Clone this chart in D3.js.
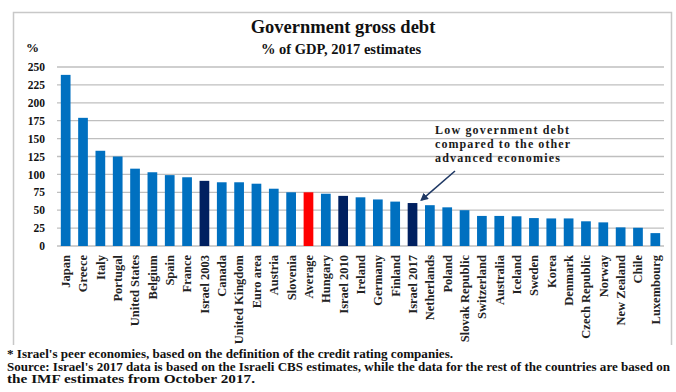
<!DOCTYPE html>
<html>
<head>
<meta charset="utf-8">
<script src="https://cdn.jsdelivr.net/npm/d3@7"></script>
<style>
  body { margin: 0; background: #fff; }
  svg { font-family: "Liberation Serif", "DejaVu Serif", serif; }
</style>
</head>
<body>
<div id="chart"></div>
<script>
// Data
const countries = ["Japan", "Greece", "Italy", "Portugal", "United States", "Belgium", "Spain", "France",
  "Israel 2003", "Canada", "United Kingdom", "Euro area", "Austria", "Slovenia", "Average", "Hungary",
  "Israel 2010", "Ireland", "Germany", "Finland", "Israel 2017", "Netherlands", "Poland", "Slovak Republic",
  "Switzerland", "Australia", "Iceland", "Sweden", "Korea", "Denmark", "Czech Republic", "Norway",
  "New Zealand", "Chile", "Luxembourg"];
const debt = [239, 179, 133, 125, 108, 103, 99, 96, 91, 89, 89, 87, 80, 75, 75, 73,
  70, 68, 65, 62, 60, 57, 54, 50, 42, 42, 41.5, 39, 38.5, 38.5, 34.5, 33, 26, 25.5, 18];
const israelYears = ["Israel 2003", "Israel 2010", "Israel 2017"];
const yTicks = d3.range(0, 251, 25);

const width = 676, height = 392;
const svg = d3.select("#chart").append("svg")
  .attr("width", width)
  .attr("height", height);

// Frame around the chart
svg.append("path")
  .attr("d", "M13.5,345 V12.5 H671.5 V345")
  .attr("fill", "none")
  .attr("stroke", "#c8c8c8")
  .attr("stroke-width", 1.5);

// Scales
const x = d3.scaleBand()
  .domain(countries)
  .range([57, 664])
  .paddingInner(0.44)
  .paddingOuter(0.22);

const y = d3.scaleLinear()
  .domain([0, 250])
  .range([246, 67]);

// Gridlines
svg.append("g")
  .selectAll("line")
  .data(yTicks)
  .enter().append("line")
  .attr("x1", 57)
  .attr("x2", 664)
  .attr("y1", d => y(d))
  .attr("y2", d => y(d))
  .attr("stroke", "#bfbfbf")
  .attr("stroke-width", 1.3);

// Y axis labels
const yAxis = svg.append("g")
  .attr("transform", "translate(50,0)")
  .call(d3.axisLeft(y).tickValues(yTicks).tickSize(0).tickPadding(5));
yAxis.select(".domain").remove();
yAxis.selectAll("text")
  .style("font-family", "Liberation Serif, serif")
  .style("font-weight", "bold")
  .style("font-size", "11.5px")
  .attr("fill", "#111");

// Bars
svg.append("g")
  .selectAll("rect")
  .data(countries)
  .enter().append("rect")
  .attr("x", d => x(d))
  .attr("y", (d, i) => y(debt[i]))
  .attr("width", x.bandwidth())
  .attr("height", (d, i) => y(0) - y(debt[i]))
  .attr("fill", d => d === "Average" ? "#ff0000" : (israelYears.includes(d) ? "#002060" : "#0070c0"));

// X axis labels, rotated
const xAxis = svg.append("g")
  .attr("transform", "translate(0,247)")
  .call(d3.axisBottom(x).tickSize(0).tickPadding(0));
xAxis.select(".domain").remove();
xAxis.selectAll("text")
  .style("font-family", "Liberation Serif, serif")
  .style("font-weight", "bold")
  .style("font-size", "12.5px")
  .attr("fill", "#222")
  .attr("transform", "rotate(-90)")
  .attr("text-anchor", "end")
  .attr("x", -8)
  .attr("y", 0)
  .attr("dy", "0.35em");

// Titles
svg.append("text")
  .attr("x", 343)
  .attr("y", 33)
  .attr("text-anchor", "middle")
  .style("font-weight", "bold")
  .style("font-size", "18.5px")
  .attr("fill", "#111")
  .text("Government gross debt");

svg.append("text")
  .attr("x", 341)
  .attr("y", 54)
  .attr("text-anchor", "middle")
  .style("font-weight", "bold")
  .style("font-size", "14.5px")
  .attr("fill", "#111")
  .text("% of GDP, 2017 estimates");

svg.append("text")
  .attr("x", 26)
  .attr("y", 52)
  .style("font-weight", "bold")
  .style("font-size", "13px")
  .attr("fill", "#111")
  .text("%");

// Annotation with arrow
const note = ["Low government debt", "compared to the other", "advanced economies"];
const noteLen = [134, 135, 125];
svg.append("g")
  .selectAll("text")
  .data(note)
  .enter().append("text")
  .attr("x", 435)
  .attr("y", (d, i) => 134 + i * 14)
  .attr("textLength", (d, i) => noteLen[i])
  .attr("lengthAdjust", "spacing")
  .style("font-weight", "bold")
  .style("font-size", "12px")
  .attr("fill", "#1a1a1a")
  .text(d => d);

svg.append("defs").append("marker")
  .attr("id", "arrow")
  .attr("viewBox", "0 0 10 10")
  .attr("refX", 8)
  .attr("refY", 5)
  .attr("markerWidth", 5)
  .attr("markerHeight", 5)
  .attr("orient", "auto")
  .append("path")
  .attr("d", "M0,0 L10,5 L0,10 z")
  .attr("fill", "#1f3864");

const israel17 = "Israel 2017";
svg.append("line")
  .attr("x1", 455)
  .attr("y1", 171)
  .attr("x2", x(israel17) + x.bandwidth() + 4)
  .attr("y2", y(debt[countries.indexOf(israel17)]) - 3)
  .attr("stroke", "#1f3864")
  .attr("stroke-width", 1.6)
  .attr("marker-end", "url(#arrow)");

// Footnotes
const foot = [
  "* Israel's peer economies, based on the definition of the credit rating companies.",
  "Source: Israel's 2017 data is based on the Israeli CBS estimates, while the data for the rest of the countries are based on",
  "the IMF estimates from October 2017."
];
const footLen = [446, 663, 248];
svg.append("g")
  .selectAll("text")
  .data(foot)
  .enter().append("text")
  .attr("x", 7)
  .attr("y", (d, i) => 358 + i * 12.5)
  .attr("textLength", (d, i) => footLen[i])
  .attr("lengthAdjust", "spacingAndGlyphs")
  .style("font-weight", "bold")
  .style("font-size", "11.5px")
  .attr("fill", "#111")
  .text(d => d);
</script>
</body>
</html>
